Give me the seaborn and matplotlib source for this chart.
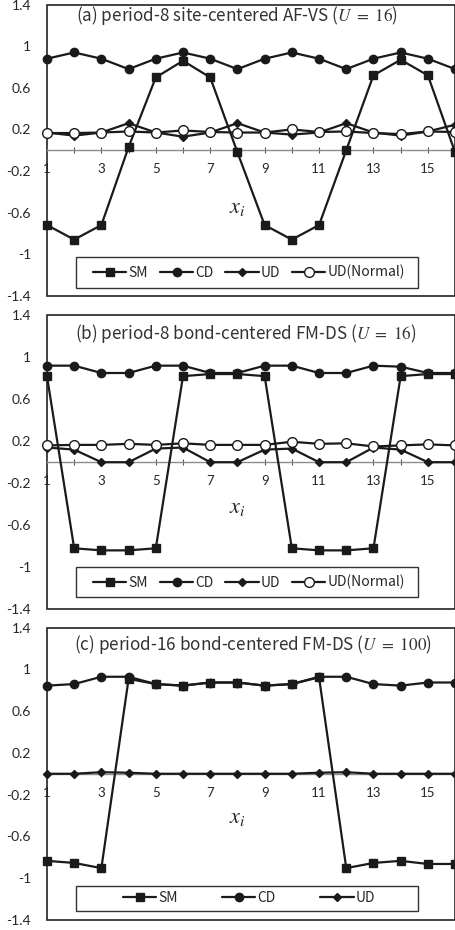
import matplotlib
matplotlib.use("Agg")
import matplotlib.pyplot as plt
import seaborn as sns
from matplotlib.lines import Line2D
from matplotlib.patches import Rectangle

# site index
sites = list(range(1, 17))

# (a) period-8 site-centered AF-VS, U = 16
a_sm = [-0.72, -0.86, -0.72, 0.03, 0.70, 0.86, 0.70, -0.02,
        -0.72, -0.86, -0.72, 0.00, 0.72, 0.87, 0.72, -0.02]
a_cd = [0.88, 0.94, 0.88, 0.78, 0.88, 0.94, 0.88, 0.78,
        0.88, 0.94, 0.88, 0.78, 0.88, 0.94, 0.88, 0.78]
a_ud = [0.17, 0.14, 0.17, 0.26, 0.17, 0.13, 0.17, 0.26,
        0.17, 0.15, 0.17, 0.26, 0.17, 0.14, 0.18, 0.245]
a_udn = [0.165, 0.165, 0.17, 0.18, 0.17, 0.19, 0.175, 0.17,
         0.17, 0.20, 0.175, 0.18, 0.165, 0.155, 0.18, 0.175]

# (b) period-8 bond-centered FM-DS, U = 16
b_sm = [0.82, -0.82, -0.84, -0.84, -0.82, 0.82, 0.84, 0.84,
        0.82, -0.82, -0.84, -0.84, -0.82, 0.82, 0.84, 0.84]
b_cd = [0.92, 0.92, 0.85, 0.85, 0.92, 0.92, 0.85, 0.85,
        0.92, 0.92, 0.85, 0.85, 0.92, 0.91, 0.85, 0.85]
b_ud = [0.14, 0.12, 0.0, 0.0, 0.13, 0.14, 0.0, 0.0,
        0.12, 0.13, 0.0, 0.0, 0.14, 0.12, 0.0, 0.0]
b_udn = [0.16, 0.165, 0.165, 0.175, 0.165, 0.18, 0.165, 0.165,
         0.165, 0.195, 0.175, 0.18, 0.15, 0.16, 0.17, 0.16]

# (c) period-16 bond-centered FM-DS, U = 100
c_sm = [-0.835, -0.855, -0.905, 0.91, 0.86, 0.845, 0.875, 0.875,
        0.845, 0.86, 0.925, -0.905, -0.855, -0.835, -0.865, -0.865]
c_cd = [0.845, 0.86, 0.93, 0.93, 0.86, 0.845, 0.875, 0.875,
        0.845, 0.86, 0.93, 0.93, 0.86, 0.845, 0.875, 0.875]
c_ud = [0.0, 0.0, 0.015, 0.01, 0.0, 0.0, 0.0, 0.0,
        0.0, 0.0, 0.01, 0.015, 0.0, 0.0, 0.0, 0.0]

yticks = [1.4, 1, 0.6, 0.2, -0.2, -0.6, -1, -1.4]
xtick_major = list(range(1, 17, 2))
xtick_minor = list(range(2, 17, 2))

titles = [r"(a) period-8 site-centered AF-VS ($U\ =\ 16$)",
          r"(b) period-8 bond-centered FM-DS ($U\ =\ 16$)",
          r"(c) period-16 bond-centered FM-DS ($U\ =\ 100$)"]

sns.set_theme(style="white")
plt.rcParams['font.family'] = ['Noto Sans CJK JP', 'DejaVu Sans']
plt.rcParams['mathtext.fontset'] = 'stix'
plt.rcParams['axes.unicode_minus'] = False

styles = {
    "SM": dict(marker="s", markersize=6, markerfacecolor="k"),
    "CD": dict(marker="o", markersize=6, markerfacecolor="k"),
    "UD": dict(marker="D", markersize=4.2, markerfacecolor="k"),
    "UD(Normal)": dict(marker="o", markersize=7, markerfacecolor="white"),
}

panels = [
    dict(rect=[0.103, 0.682, 0.895, 0.313], series=[("SM", a_sm), ("CD", a_cd), ("UD", a_ud), ("UD(Normal)", a_udn)],
         tx=0.466, ty=1.30, ly=-0.54, frame=(0.071, 0.027, 0.838, 0.107), inner=(0.113, 0.764)),
    dict(rect=[0.103, 0.345, 0.895, 0.316], series=[("SM", b_sm), ("CD", b_cd), ("UD", b_ud), ("UD(Normal)", b_udn)],
         tx=0.488, ty=1.23, ly=-0.42, frame=(0.071, 0.040, 0.838, 0.103), inner=(0.113, 0.764)),
    dict(rect=[0.103, 0.011, 0.895, 0.314], series=[("SM", c_sm), ("CD", c_cd), ("UD", c_ud)],
         tx=0.505, ty=1.24, ly=-0.41, frame=(0.071, 0.031, 0.838, 0.085), inner=(0.186, 0.618)),
]

fig = plt.figure(figsize=(4.56, 9.3), dpi=100)

for i, p in enumerate(panels):
    ax = fig.add_axes(p["rect"])
    handles = []
    for z, (name, vals) in enumerate(p["series"]):
        st = styles[name]
        sns.lineplot(x=sites, y=vals, ax=ax, color="k", lw=1.6, markeredgecolor="k",
                     markeredgewidth=1, zorder=3 + z, clip_on=False, legend=False, **st)
        handles.append(Line2D([], [], color="k", lw=1.6, markeredgecolor="k", markeredgewidth=1,
                              label=name, **st))

    ax.set_xlim(1, 16)
    ax.set_ylim(-1.4, 1.4)
    ax.set_xlabel("")
    ax.set_ylabel("")

    # Excel-like frame + horizontal axis through zero
    for s in ["top", "right", "left"]:
        ax.spines[s].set_visible(False)
    ax.spines["bottom"].set_position(("data", 0))
    ax.spines["bottom"].set_color("#8c8c8c")
    ax.spines["bottom"].set_linewidth(1)
    ax.patch.set_edgecolor("#222222")
    ax.patch.set_linewidth(1.2)

    ax.set_xticks(xtick_major, [str(v) for v in xtick_major], fontfamily="Lato", fontsize=9.5)
    ax.set_xticks(xtick_minor, minor=True)
    ax.tick_params(axis="x", which="both", direction="inout", length=4.5, width=0.8,
                   color="#555555", pad=7, bottom=True)
    ax.set_yticks(yticks, [f"{v:g}" for v in yticks], fontfamily="Lato", fontsize=10)
    ax.tick_params(axis="y", length=0, pad=11.5)

    ax.text(p["tx"], p["ty"], titles[i], transform=ax.get_yaxis_transform(),
            ha="center", va="center", fontsize=12.3, color="#333333")
    ax.text(8, p["ly"], "$x_i$", ha="center", va="center", fontsize=16)

    fx, fy, fw, fh = p["frame"]
    ax.add_patch(Rectangle((fx, fy), fw, fh, transform=ax.transAxes, facecolor="white",
                           edgecolor="#333333", lw=1, zorder=8))
    ix, iw = p["inner"]
    leg = ax.legend(handles=handles, ncol=len(handles), mode="expand", loc="center",
                    bbox_to_anchor=(ix, fy, iw, fh), borderaxespad=0, borderpad=0,
                    frameon=False, handlelength=2.4, handletextpad=0.15,
                    prop={"family": "Noto Sans CJK JP", "size": 10})
    leg.set_zorder(9)

fig.savefig("out.png", dpi=100)
